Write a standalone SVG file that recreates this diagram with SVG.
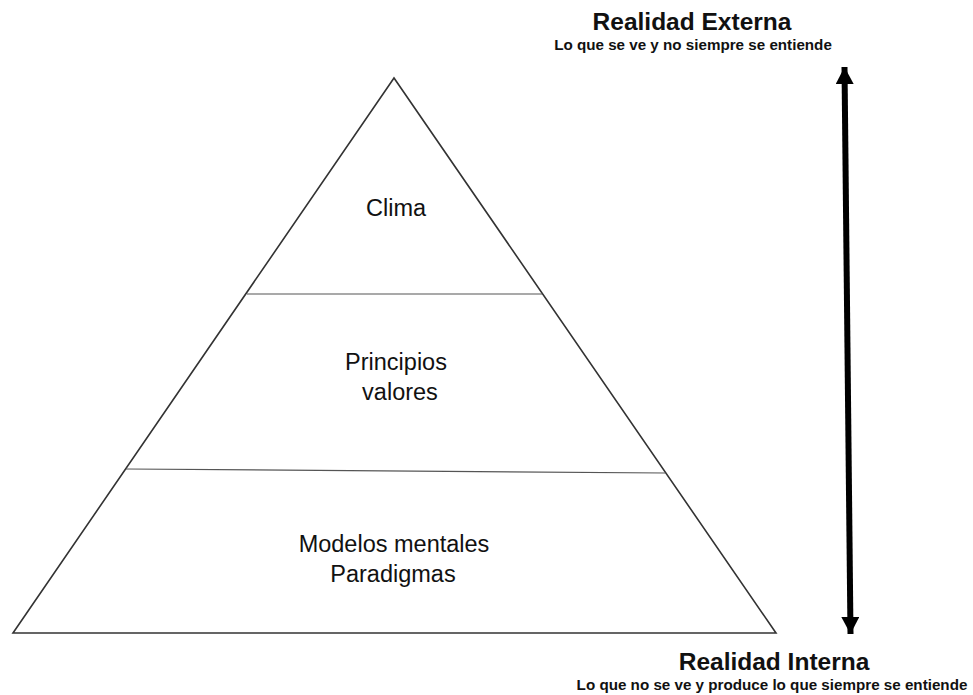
<svg xmlns="http://www.w3.org/2000/svg" width="973" height="695" viewBox="0 0 973 695">
<style>
.lbl{font-family:"Liberation Sans",Arial,sans-serif;font-size:23.5px;fill:#111;text-anchor:middle}
.ttl{font-family:"Liberation Sans",Arial,sans-serif;font-size:24.5px;font-weight:bold;fill:#111;text-anchor:middle}
.sub{font-family:"Liberation Sans",Arial,sans-serif;font-size:15.2px;font-weight:bold;fill:#111;text-anchor:middle}
.edge{fill:none;stroke:#333;stroke-width:1.6}
.div{stroke:#555;stroke-width:1.2}
</style>
<defs>
<marker id="head" viewBox="0 0 17 18" refX="17" refY="9" markerWidth="17" markerHeight="18" markerUnits="userSpaceOnUse" orient="auto-start-reverse">
<path d="M0,0 L17,9 L0,18 z" fill="#000"/>
</marker>
</defs>
<rect width="973" height="695" fill="#fff"/>
<g id="pyramid">
<polygon class="edge" points="394,78 13,633 776,633"/>
<line class="div" x1="247" y1="294" x2="542" y2="294"/>
<line class="div" x1="126" y1="469" x2="665" y2="473"/>
</g>
<g id="clima"><text class="lbl" x="396" y="216">Clima</text></g>
<g id="principios">
<text class="lbl" x="396" y="370">Principios</text>
<text class="lbl" x="400" y="400">valores</text>
</g>
<g id="modelos">
<text class="lbl" x="394" y="552">Modelos mentales</text>
<text class="lbl" x="393" y="582">Paradigmas</text>
</g>
<g id="externa">
<text class="ttl" x="692" y="30">Realidad Externa</text>
<text class="sub" x="693" y="50">Lo que se ve y no siempre se entiende</text>
</g>
<g id="interna">
<text class="ttl" x="774" y="670">Realidad Interna</text>
<text class="sub" x="772" y="690">Lo que no se ve y produce lo que siempre se entiende</text>
</g>
<g id="connectors">
<line x1="844.5" y1="67" x2="850.5" y2="634" stroke="#000" stroke-width="6" marker-start="url(#head)" marker-end="url(#head)"/>
</g>
</svg>
